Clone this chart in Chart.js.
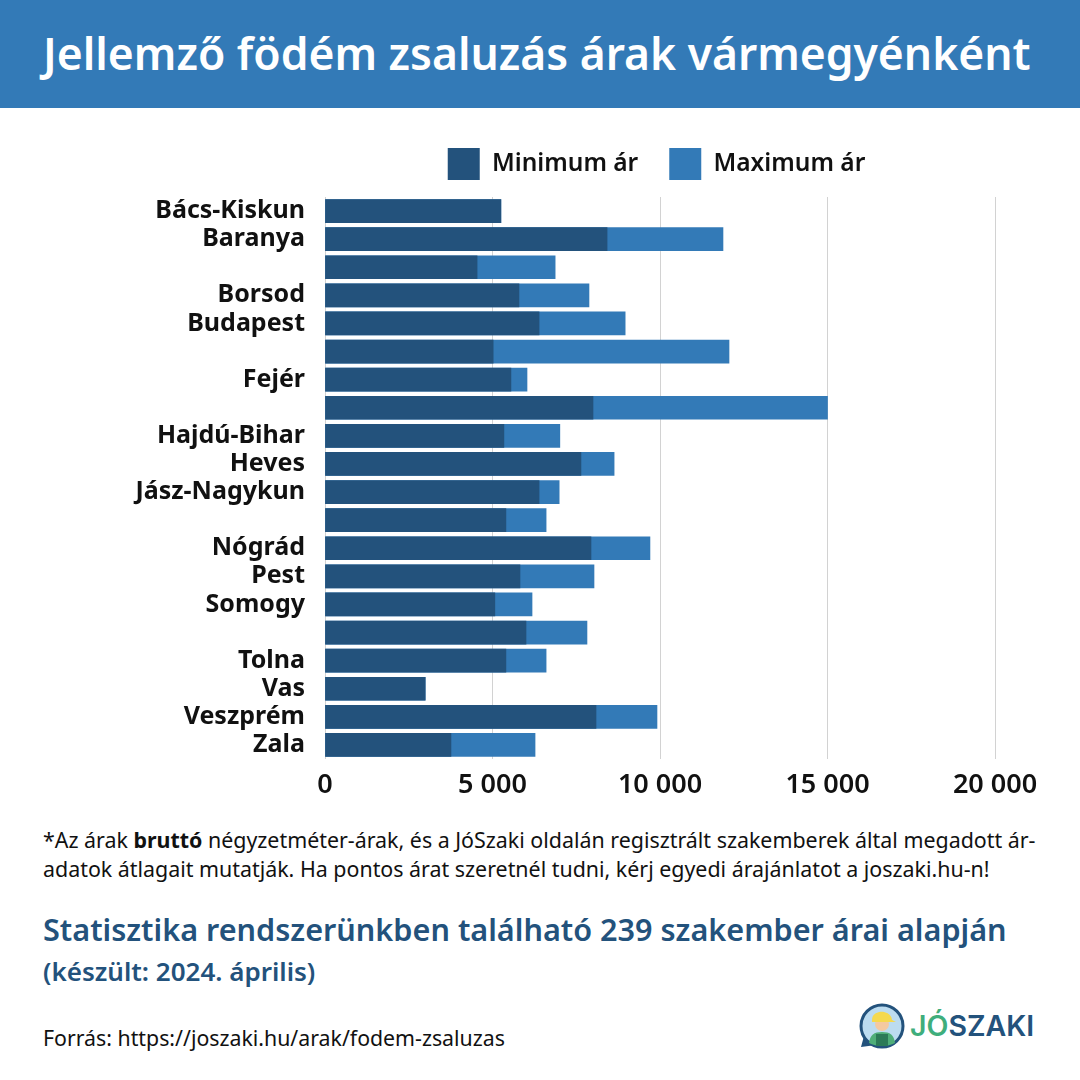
<!DOCTYPE html>
<html lang="hu">
<head>
<meta charset="utf-8">
<title>Födém zsaluzás árak</title>
<script src="https://cdn.jsdelivr.net/npm/chart.js@4"></script>
<style>
  html, body { margin: 0; padding: 0; background: #fff; }
  body { width: 1080px; height: 1080px; position: relative; overflow: hidden; font-family: "Noto Sans", sans-serif; color: #111; }
  .txt { position: absolute; white-space: nowrap; margin: 0; }
  #band { position: absolute; left: 0; top: 0; width: 1080px; height: 108px; background: #337ab7; }
  #title { left: 43px; top: 24px; font-size: 44.4px; line-height: 58px; font-weight: 600; color: #fff; }
  #chartBox { position: absolute; left: 0; top: 108px; }
  .note { left: 43px; font-size: 21.4px; line-height: 28px; }
  #stat { left: 43px; top: 910px; font-size: 30.6px; line-height: 38px; font-weight: 600; color: #23527c; }
  #date { left: 43px; top: 956px; font-size: 26px; line-height: 30px; font-weight: 600; color: #23527c; }
  #src { left: 43px; top: 1024px; font-size: 21.3px; line-height: 28px; }
  #logo { position: absolute; left: 858px; top: 1002px; }
  #logoText { left: 910px; top: 1004px; font-family: Inter, sans-serif; font-size: 28.5px; line-height: 44px; font-weight: 600; color: #23527c; }
  #logoText span { color: #3fae7c; }
</style>
</head>
<body>
<div id="band"></div>
<h1 id="title" class="txt">Jellemző födém zsaluzás árak vármegyénként</h1>
<div id="chartBox"><canvas id="arChart" width="1080" height="700"></canvas></div>
<p class="txt note" style="top:826px">*Az árak <b>bruttó</b> négyzetméter-árak, és a JóSzaki oldalán regisztrált szakemberek által megadott ár-</p>
<p class="txt note" style="top:855px">adatok átlagait mutatják. Ha pontos árat szeretnél tudni, kérj egyedi árajánlatot a joszaki.hu-n!</p>
<p id="stat" class="txt">Statisztika rendszerünkben található 239 szakember árai alapján</p>
<p id="date" class="txt">(készült: 2024. április)</p>
<p id="src" class="txt">Forrás: https://joszaki.hu/arak/fodem-zsaluzas</p>
<svg id="logo" width="50" height="48" viewBox="0 0 50 48">
  <path d="M6 34 L3 45 L18 43 Z" fill="#23527c"/>
  <circle cx="24" cy="24" r="21" fill="#bcdcf0" stroke="#23527c" stroke-width="3"/>
  <path d="M11 41 C12 33 16 30 24 30 C32 30 36 33 37 41 C30 45 18 45 11 41 Z" fill="#4fae78"/>
  <rect x="18" y="32" width="12" height="12" fill="#2c7a57"/>
  <circle cx="24" cy="22" r="7" fill="#f4c9a0"/>
  <path d="M14 18 C14 7 33 7 34 18 L38 20 L14 20 Z" fill="#f5d94e"/>
</svg>
<div id="logoText" class="txt"><span>JÓ</span>SZAKI</div>

<script>
const megyek = ["Bács-Kiskun", "Baranya", "", "Borsod", "Budapest", "", "Fejér", "", "Hajdú-Bihar", "Heves", "Jász-Nagykun", "", "Nógrád", "Pest", "Somogy", "", "Tolna", "Vas", "Veszprém", "Zala"];
const minimumAr = [5250, 8420, 4540, 5790, 6390, 5020, 5550, 8000, 5340, 7640, 6390, 5400, 7940, 5820, 5070, 6000, 5400, 2990, 8090, 3760];
const maximumAr = [5250, 11880, 6870, 7880, 8960, 12060, 6030, 15000, 7010, 8630, 6990, 6600, 9700, 8030, 6180, 7820, 6600, 2990, 9910, 6270];
const sotetKek = "#23527c";
const vilagosKek = "#337ab7";
const szamCimke = v => v === 0 ? "0" : String(v).replace(/\B(?=(\d{3})+$)/g, " ");

// legend padding would push the plot down, so its height is fixed here
const legendMagassag = {
  id: "legendMagassag",
  beforeLayout(chart) {
    const legend = chart.legend;
    if (legend.fitEredeti) return;
    legend.fitEredeti = legend.fit;
    legend.fit = function () {
      this.fitEredeti();
      this.height = 80;
    };
  },
  afterLayout(chart) {
    // the legend sits a bit left of the plot centre
    chart.legend.left -= 7;
  }
};

const ctx = document.getElementById("arChart").getContext("2d");
new Chart(ctx, {
  type: "bar",
  data: {
    labels: megyek,
    datasets: [
      { label: "Minimum ár", data: minimumAr, backgroundColor: sotetKek, order: 1, barThickness: 23 },
      { label: "Maximum ár", data: maximumAr, backgroundColor: vilagosKek, order: 2, barThickness: 23 }
    ]
  },
  plugins: [legendMagassag],
  options: {
    indexAxis: "y",
    responsive: false,
    animation: false,
    layout: { padding: { top: 9, right: 85, bottom: 0, left: 0 } },
    plugins: {
      tooltip: { enabled: false },
      legend: {
        position: "top",
        fullSize: false,
        labels: {
          boxWidth: 32,
          boxHeight: 32,
          padding: 31,
          color: "#111",
          font: { family: "'Noto Sans'", size: 24.5, weight: "600" }
        }
      }
    },
    scales: {
      x: {
        min: 0,
        max: 20000,
        afterFit: scale => { scale.height = 49; },
        ticks: {
          stepSize: 5000,
          padding: 10,
          maxRotation: 0,
          color: "#111",
          font: { family: "'Noto Sans'", size: 27, weight: "600" },
          callback: szamCimke
        },
        grid: { color: "#d2d2d2", lineWidth: 1, drawTicks: false },
        border: { display: false }
      },
      y: {
        stacked: true,
        afterFit: scale => { scale.width = 325; },
        ticks: {
          autoSkip: false,
          padding: 20,
          color: "#111",
          font: { family: "'Noto Sans'", size: 25, weight: "700" }
        },
        grid: { display: false, drawTicks: false },
        border: { display: false }
      }
    }
  }
});
</script>
</body>
</html>
